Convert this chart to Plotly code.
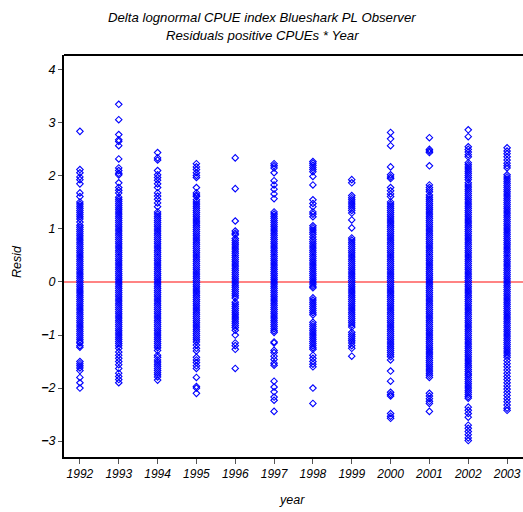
import plotly.graph_objects as go

years = [1992, 1993, 1994, 1995, 1996, 1997, 1998, 1999, 2000, 2001, 2002, 2003]
y_ticks = [-3, -2, -1, 0, 1, 2, 3, 4]

resid_1992 = [2.84, 2.12, 2.06, 1.98, 1.93, 1.85, 1.68, 1.61,
              1.51, 1.47, 1.43, 1.39, 1.35, 1.31, 1.27, 1.23, 1.19, 1.13, 1.07, 1.03, 0.99, 0.95,
              0.91, 0.87, 0.83, 0.79, 0.75, 0.71, 0.67, 0.63, 0.59, 0.55, 0.51, 0.47, 0.43, 0.39,
              0.35, 0.31, 0.27, 0.23, 0.19, 0.15, 0.11, 0.07, 0.03, -0.01, -0.05, -0.09, -0.13,
              -0.17, -0.21, -0.25, -0.29, -0.33, -0.37, -0.41, -0.45, -0.49, -0.53, -0.57, -0.61,
              -0.65, -0.69, -0.73, -0.77, -0.81, -0.85, -0.89, -0.93, -0.97, -1.01, -1.05, -1.09,
              -1.13, -1.15,
              -1.20, -1.23, -1.50, -1.54, -1.58, -1.62, -1.67, -1.80, -1.90, -2.00]

resid_1993 = [3.35, 3.06, 2.78, 2.68, 2.65, 2.57, 2.32, 2.15, 2.10, 2.05, 2.02, 1.87, 1.78, 1.73, 1.68,
              1.60, 1.56, 1.52, 1.48, 1.44, 1.40, 1.36, 1.32, 1.28, 1.24, 1.20, 1.16, 1.12, 1.08,
              1.04, 1.00, 0.96, 0.92, 0.88, 0.84, 0.80, 0.76, 0.72, 0.68, 0.64, 0.60, 0.56, 0.52,
              0.48, 0.44, 0.40, 0.36, 0.32, 0.28, 0.24, 0.20, 0.16, 0.12, 0.08, 0.04, 0.00, -0.04,
              -0.08, -0.12, -0.16, -0.20, -0.24, -0.28, -0.32, -0.36, -0.40, -0.44, -0.48, -0.52,
              -0.56, -0.60, -0.64, -0.68, -0.72, -0.76, -0.80, -0.84, -0.88, -0.92, -0.96, -1.00,
              -1.04, -1.08, -1.12, -1.16, -1.20, -1.25,
              -1.32, -1.38, -1.44, -1.50, -1.56, -1.63, -1.72, -1.78, -1.84, -1.90]

resid_1994 = [2.44, 2.34, 2.30, 2.10, 2.02, 1.97, 1.92, 1.85, 1.78, 1.68, 1.62, 1.56, 1.49, 1.42,
              1.32, 1.28, 1.24, 1.20, 1.16, 1.12, 1.08, 1.04, 1.00, 0.96, 0.92, 0.88, 0.84, 0.80,
              0.76, 0.72, 0.68, 0.64, 0.60, 0.56, 0.52, 0.48, 0.44, 0.40, 0.36, 0.32, 0.28, 0.24,
              0.20, 0.16, 0.12, 0.08, 0.04, 0.00, -0.04, -0.08, -0.12, -0.16, -0.20, -0.24, -0.28,
              -0.32, -0.36, -0.40, -0.44, -0.48, -0.52, -0.56, -0.60, -0.64, -0.68, -0.72, -0.76,
              -0.80, -0.84, -0.88, -0.92, -0.96, -1.00, -1.04, -1.08, -1.12, -1.16, -1.20, -1.24,
              -1.29,
              -1.38, -1.42, -1.47, -1.51, -1.55, -1.59, -1.63, -1.67, -1.71, -1.75, -1.79, -1.85]

resid_1995 = [2.23, 2.17, 2.12, 2.06, 2.01, 1.97, 1.78, 1.68, 1.64, 1.61,
              1.55, 1.51, 1.47, 1.43, 1.39, 1.35, 1.31, 1.27, 1.23, 1.19, 1.15, 1.11, 1.07, 1.03,
              0.99, 0.95, 0.91, 0.87, 0.83, 0.79, 0.75, 0.71, 0.67, 0.63, 0.59, 0.55, 0.51, 0.47,
              0.43, 0.39, 0.35, 0.31, 0.27, 0.23, 0.19, 0.15, 0.11, 0.07, 0.03, -0.01, -0.05, -0.09,
              -0.13, -0.17, -0.21, -0.25, -0.29, -0.33, -0.37, -0.41, -0.45, -0.49, -0.53, -0.57,
              -0.61, -0.65, -0.69, -0.73, -0.77, -0.81, -0.85, -0.89, -0.93, -0.97, -1.01, -1.05,
              -1.09, -1.13, -1.19,
              -1.25, -1.30, -1.42, -1.47, -1.52, -1.58, -1.63, -1.80, -1.97, -2.00, -2.10]

resid_1996 = [2.34, 1.76, 1.15, 0.96, 0.92, 0.89,
              0.82, 0.78, 0.74, 0.70, 0.66, 0.62, 0.58, 0.54, 0.50, 0.46, 0.42, 0.38, 0.34, 0.30,
              0.26, 0.22, 0.18, 0.14, 0.10, 0.06, 0.02, -0.02, -0.06, -0.10, -0.14, -0.18, -0.22,
              -0.26, -0.30, -0.38, -0.42, -0.46, -0.50, -0.54, -0.58, -0.62, -0.66, -0.70, -0.74,
              -0.78, -0.82, -0.86, -0.91,
              -1.00, -1.15, -1.20, -1.27, -1.63]

resid_1997 = [2.23, 2.19, 2.15, 2.06, 1.91, 1.83, 1.75, 1.66, 1.57,
              1.32, 1.28, 1.24, 1.20, 1.16, 1.12, 1.08, 1.04, 1.00, 0.96, 0.92, 0.88, 0.84, 0.80,
              0.76, 0.72, 0.68, 0.64, 0.60, 0.56, 0.52, 0.48, 0.44, 0.40, 0.36, 0.32, 0.28, 0.24,
              0.20, 0.16, 0.12, 0.08, 0.04, 0.00, -0.04, -0.08, -0.12, -0.16, -0.20, -0.24, -0.28,
              -0.32, -0.36, -0.40, -0.44, -0.48, -0.52, -0.56, -0.60, -0.64, -0.68, -0.72, -0.76,
              -0.80, -0.84, -0.88, -0.92, -0.95,
              -1.13, -1.15, -1.29, -1.33, -1.40, -1.46, -1.53, -1.57, -1.87, -1.98, -2.07, -2.17,
              -2.23, -2.44]

resid_1998 = [2.27, 2.24, 2.20, 2.16, 2.12, 2.08, 1.99, 1.83, 1.55, 1.48, 1.42, 1.32, 1.28, 1.23,
              1.06, 1.02, 0.98, 0.94, 0.90, 0.85,
              0.80, 0.76, 0.72, 0.68, 0.64, 0.60, 0.56, 0.52, 0.48, 0.44, 0.40, 0.36, 0.32, 0.28,
              0.24, 0.20, 0.16, 0.12, 0.08, 0.04, 0.00, -0.04, -0.08, -0.11,
              -0.30, -0.34, -0.38, -0.42, -0.46, -0.50, -0.54, -0.58, -0.62,
              -0.76, -0.80, -0.84, -0.88, -0.92, -0.96, -1.00, -1.04, -1.08, -1.12, -1.16, -1.20,
              -1.24, -1.27,
              -1.38, -1.44, -1.50, -1.55, -1.60, -2.00, -2.29]

resid_1999 = [1.93, 1.87, 1.63, 1.59, 1.55, 1.51, 1.47, 1.43, 1.39, 1.35, 1.30, 1.17, 1.02,
              0.83, 0.79, 0.75, 0.71, 0.67, 0.63, 0.59, 0.55, 0.51, 0.47, 0.43, 0.39, 0.35, 0.31,
              0.27, 0.23, 0.19, 0.15, 0.11, 0.07, 0.03, -0.01, -0.05, -0.09, -0.13, -0.17, -0.21,
              -0.25, -0.29, -0.33, -0.37, -0.41, -0.45, -0.49, -0.53, -0.57, -0.61, -0.65, -0.69,
              -0.73, -0.77, -0.81, -0.85,
              -0.95, -0.99, -1.03, -1.07, -1.11, -1.15, -1.20, -1.25, -1.40]

resid_2000 = [2.82, 2.70, 2.57, 2.17, 2.02, 1.98, 1.95, 1.78, 1.72, 1.66, 1.61,
              1.51, 1.47, 1.43, 1.39, 1.35, 1.31, 1.27, 1.23, 1.19, 1.15, 1.11, 1.07, 1.03, 0.99,
              0.95, 0.91, 0.87, 0.83, 0.79, 0.75, 0.71, 0.67, 0.63, 0.59, 0.55, 0.51, 0.47, 0.43,
              0.39, 0.35, 0.31, 0.27, 0.23, 0.19, 0.15, 0.11, 0.07, 0.03, -0.01, -0.05, -0.09,
              -0.13, -0.17, -0.21, -0.25, -0.29, -0.33, -0.37, -0.41, -0.45, -0.49, -0.53, -0.57,
              -0.61, -0.65, -0.69, -0.73, -0.77, -0.81, -0.85, -0.89, -0.93, -0.97, -1.01, -1.05,
              -1.09, -1.13, -1.17, -1.21, -1.25, -1.29, -1.33, -1.37, -1.41, -1.47,
              -1.68, -1.87, -2.08, -2.12, -2.15, -2.48, -2.53, -2.57]

resid_2001 = [2.72, 2.50, 2.47, 2.44, 2.19, 1.83, 1.78, 1.74, 1.70,
              1.64, 1.60, 1.56, 1.52, 1.48, 1.44, 1.40, 1.36, 1.32, 1.28, 1.24, 1.20, 1.16, 1.12,
              1.08, 1.04, 1.00, 0.96, 0.92, 0.88, 0.84, 0.80, 0.76, 0.72, 0.68, 0.64, 0.60, 0.56,
              0.52, 0.48, 0.44, 0.40, 0.36, 0.32, 0.28, 0.24, 0.20, 0.16, 0.12, 0.08, 0.04, 0.00,
              -0.04, -0.08, -0.12, -0.16, -0.20, -0.24, -0.28, -0.32, -0.36, -0.40, -0.44, -0.48,
              -0.52, -0.56, -0.60, -0.64, -0.68, -0.72, -0.76, -0.80, -0.84, -0.88, -0.92, -0.96,
              -1.00, -1.04, -1.08, -1.12, -1.16, -1.20, -1.24, -1.28, -1.32, -1.36, -1.40, -1.44,
              -1.48, -1.52, -1.56, -1.60, -1.64, -1.68, -1.72, -1.76, -1.80,
              -2.10, -2.15, -2.20, -2.25, -2.29, -2.44]

resid_2002 = [2.87, 2.74, 2.55, 2.50, 2.45, 2.40, 2.36, 2.25, 2.21, 2.17, 2.13, 2.09, 2.05, 2.01,
              1.97, 1.93,
              1.87, 1.83, 1.79, 1.75, 1.71, 1.67, 1.63, 1.59, 1.55, 1.51, 1.47, 1.43, 1.39, 1.35,
              1.31, 1.27, 1.23, 1.19, 1.15, 1.11, 1.07, 1.03, 0.99, 0.95, 0.91, 0.87, 0.83, 0.79,
              0.75, 0.71, 0.67, 0.63, 0.59, 0.55, 0.51, 0.47, 0.43, 0.39, 0.35, 0.31, 0.27, 0.23,
              0.19, 0.15, 0.11, 0.07, 0.03, -0.01, -0.05, -0.09, -0.13, -0.17, -0.21, -0.25, -0.29,
              -0.33, -0.37, -0.41, -0.45, -0.49, -0.53, -0.57, -0.61, -0.65, -0.69, -0.73, -0.77,
              -0.81, -0.85, -0.89, -0.93, -0.97, -1.01, -1.05, -1.09, -1.13, -1.17, -1.21, -1.25,
              -1.29, -1.33, -1.37, -1.41, -1.45, -1.49, -1.53, -1.57, -1.61, -1.65, -1.69, -1.73,
              -1.76,
              -1.80, -1.84, -1.88, -1.92, -1.96, -2.00, -2.04, -2.08, -2.12, -2.16, -2.19,
              -2.36, -2.42, -2.48, -2.55, -2.70, -2.76, -2.82, -2.88, -2.94, -2.99]

resid_2003 = [2.53, 2.47, 2.42, 2.36, 2.30, 2.24, 2.19, 2.15,
              2.02, 1.98, 1.94, 1.90, 1.86, 1.82, 1.78, 1.74, 1.70, 1.66, 1.62, 1.58, 1.54, 1.50,
              1.46, 1.42, 1.38, 1.34, 1.30, 1.26, 1.22, 1.18, 1.14, 1.10, 1.06, 1.02, 0.98, 0.94,
              0.90, 0.86, 0.82, 0.78, 0.74, 0.70, 0.66, 0.62, 0.58, 0.54, 0.50, 0.46, 0.42, 0.38,
              0.34, 0.30, 0.26, 0.22, 0.18, 0.14, 0.10, 0.06, 0.02, -0.02, -0.06, -0.10, -0.14,
              -0.18, -0.22, -0.26, -0.30, -0.34, -0.38, -0.42, -0.46, -0.50, -0.54, -0.58, -0.62,
              -0.66, -0.70, -0.74, -0.78, -0.82, -0.86, -0.90, -0.94, -0.98, -1.02, -1.06, -1.10,
              -1.14, -1.18, -1.22, -1.26, -1.30, -1.34, -1.38, -1.42,
              -1.48, -1.54, -1.60, -1.66, -1.72, -1.78, -1.84, -1.90, -1.96, -2.02, -2.08, -2.14,
              -2.20, -2.26, -2.32, -2.38, -2.42]

resid_by_year = [resid_1992, resid_1993, resid_1994, resid_1995, resid_1996, resid_1997,
                 resid_1998, resid_1999, resid_2000, resid_2001, resid_2002, resid_2003]

xs, ys = [], []
for yr, vals in zip(years, resid_by_year):
    xs.extend([yr] * len(vals))
    ys.extend(vals)

FONT = "Liberation Sans"
BLUE = "#0000FF"

fig = go.Figure()
fig.add_trace(go.Scatter(
    x=xs, y=ys, mode="markers",
    marker=dict(symbol="diamond-open", size=5, color=BLUE, line=dict(color=BLUE, width=1.1)),
    showlegend=False, hoverinfo="x+y",
))

# zero reference line
fig.add_shape(type="line", xref="paper", yref="y", x0=0, x1=1, y0=0, y1=0,
              line=dict(color="#FF5A5A", width=1.5), layer="below")
# top edge of the frame
fig.add_shape(type="line", xref="paper", yref="paper", x0=0, x1=1, y0=1, y1=1,
              line=dict(color="black", width=2))

fig.update_layout(
    width=523, height=512,
    margin=dict(l=64, r=0, t=55, b=55),
    paper_bgcolor="white", plot_bgcolor="white",
    font=dict(family=FONT, size=12, color="black"),
    showlegend=False,
    annotations=[
        dict(text="<i>Delta lognormal CPUE index Blueshark PL Observer</i>", xref="paper", yref="paper",
             x=(262 - 64) / 459, y=1 + (55 - 17) / 402, xanchor="center", yanchor="middle",
             showarrow=False, font=dict(family=FONT, size=13.2)),
        dict(text="<i>Residuals positive CPUEs * Year</i>", xref="paper", yref="paper",
             x=(262 - 64) / 459, y=1 + (55 - 35) / 402, xanchor="center", yanchor="middle",
             showarrow=False, font=dict(family=FONT, size=13.2)),
        dict(text="<i>year</i>", xref="paper", yref="paper",
             x=(292 - 64) / 459, y=-(500 - 457) / 402, xanchor="center", yanchor="middle",
             showarrow=False, font=dict(family=FONT, size=12.5)),
        dict(text="<i>Resid</i>", xref="paper", yref="paper", textangle=-90,
             x=-(64 - 17) / 459, y=(457 - 262) / 402, xanchor="center", yanchor="middle",
             showarrow=False, font=dict(family=FONT, size=12.5)),
    ],
)

fig.update_xaxes(
    range=[1991.59, 2003.41], tickmode="array", tickvals=years,
    ticktext=[f"<i>{y}</i>" for y in years],
    showline=True, linecolor="black", linewidth=2, mirror=False,
    ticks="outside", ticklen=5, tickwidth=1, tickcolor="#555555",
    showgrid=False, zeroline=False, tickfont=dict(family=FONT, size=12),
)
fig.update_yaxes(
    range=[-3.30, 4.28], tickmode="array", tickvals=y_ticks,
    ticktext=[f"<i>{'<b>−</b>' + str(-t) if t < 0 else str(t)}</i>" for t in y_ticks],
    showline=True, linecolor="black", linewidth=2, mirror=False,
    ticks="outside", ticklen=4, tickwidth=1, tickcolor="#555555",
    showgrid=False, zeroline=False, tickfont=dict(family=FONT, size=12.5),
)

fig.write_html("out.html")
